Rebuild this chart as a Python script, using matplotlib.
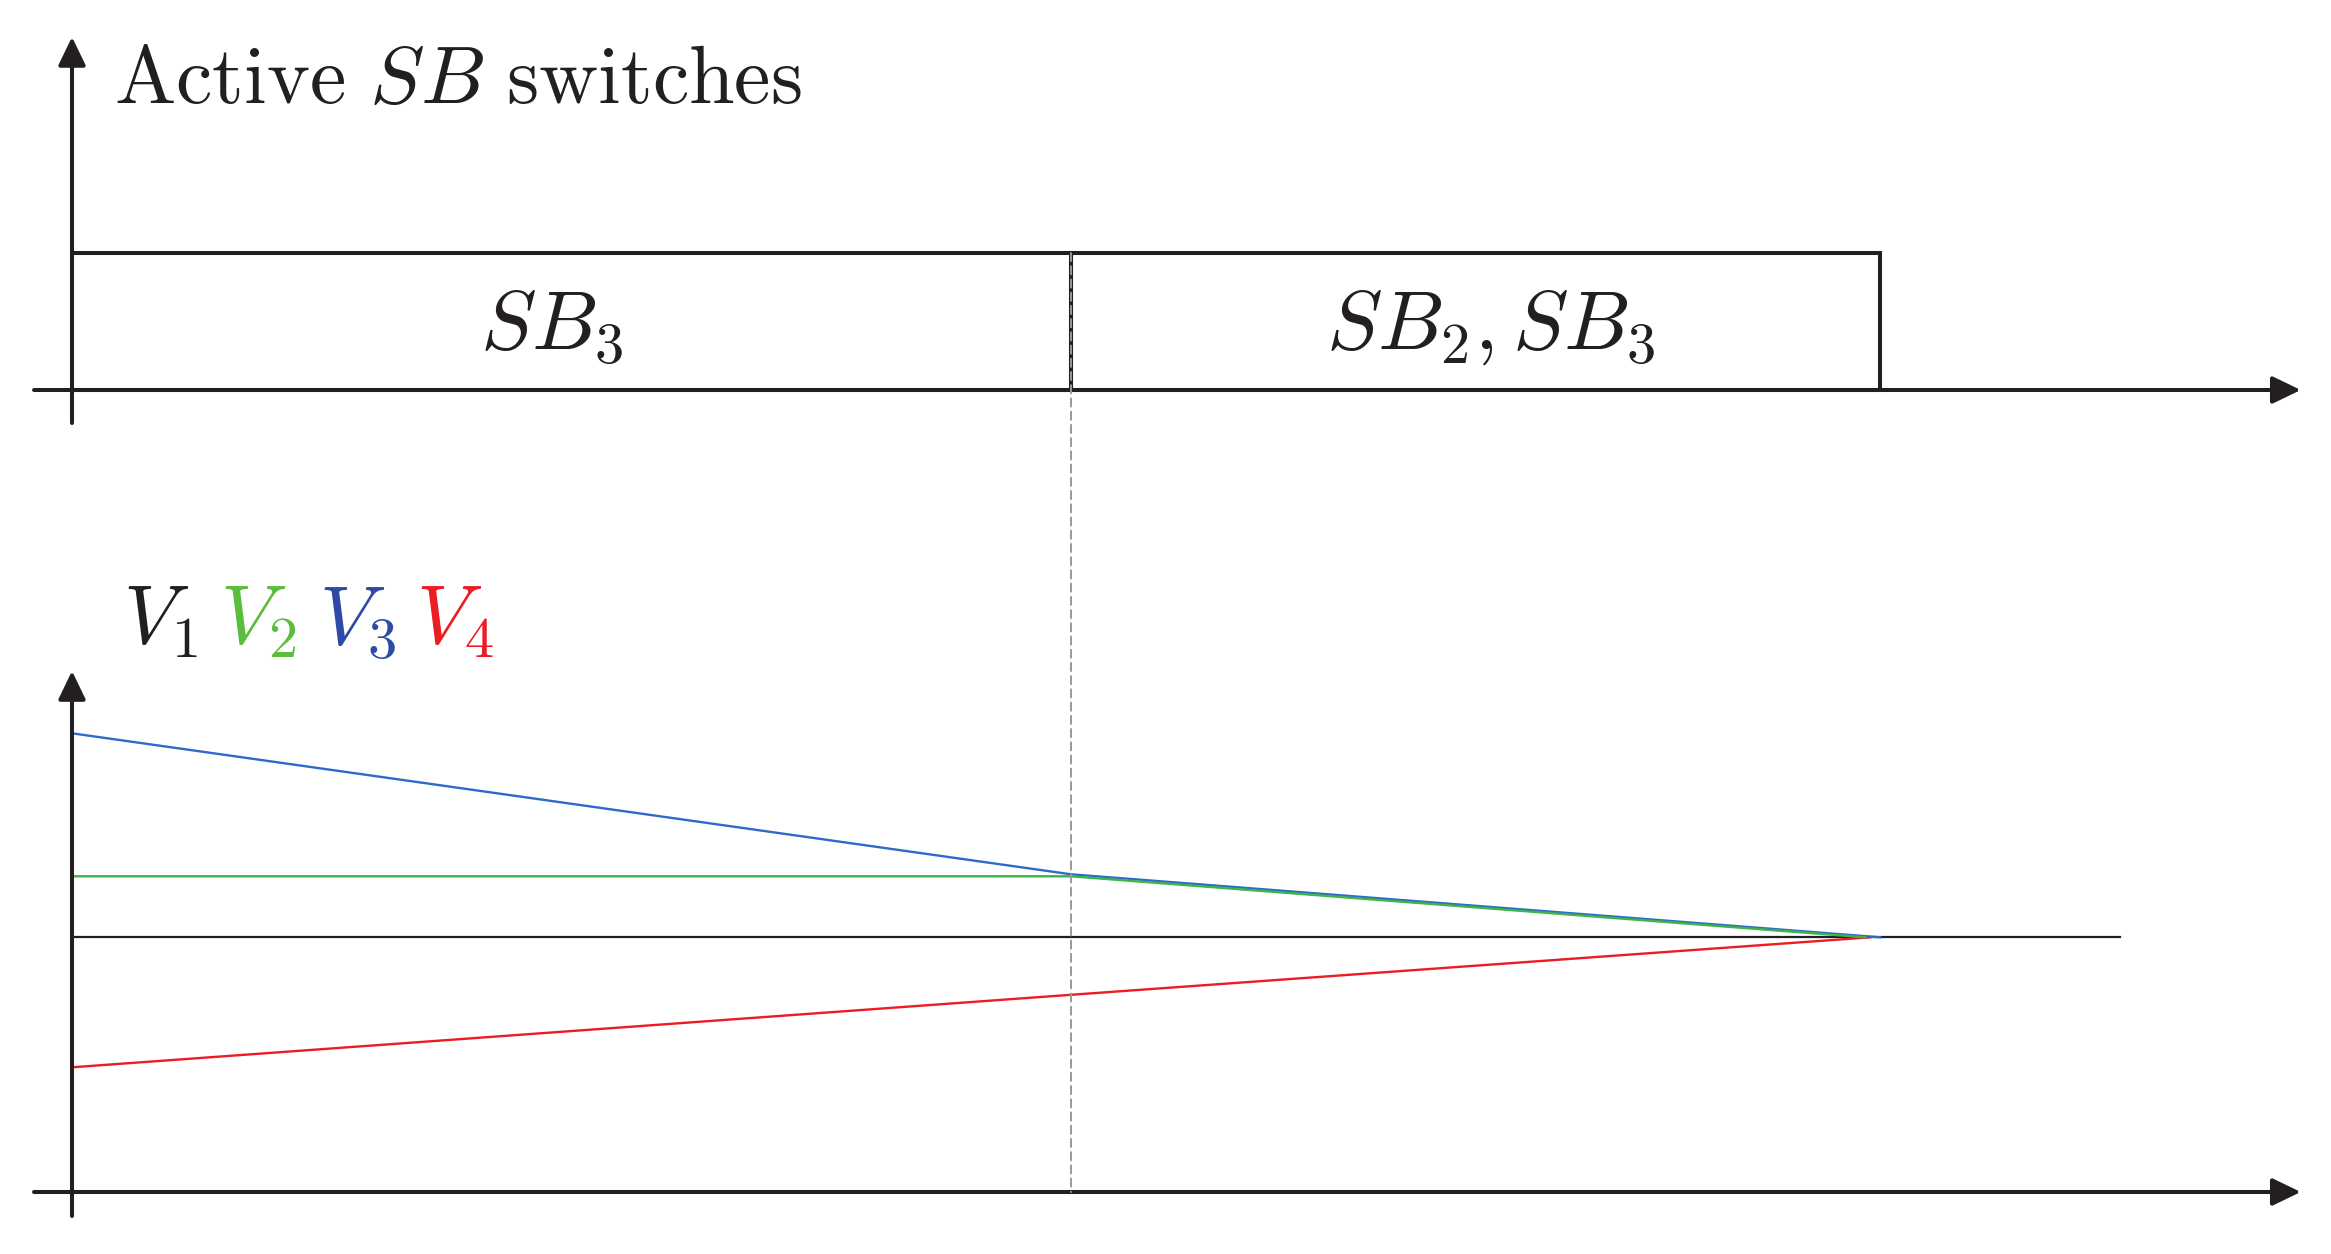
import matplotlib
matplotlib.use("Agg")
import matplotlib.pyplot as plt
from matplotlib.patches import ConnectionPatch

plt.rcParams['mathtext.fontset'] = 'cm'
plt.rcParams['font.family'] = ['DejaVu Serif']

# ---------------- data ----------------
# switching intervals (time in units of the first switching instant)
sb_starts = [0.0, 1.0]
sb_ends = [1.0, 1.81]
sb_labels = [r'$SB_3$', r'$SB_2, SB_3$']
sb_label_x = [0.48, 1.42]

# voltage trajectories (arbitrary units, V1 as reference = 0)
t_v1 = [0.0, 2.05]
v1 = [0.0, 0.0]
t_v2 = [0.0, 1.0, 1.795]
v2 = [0.61, 0.61, 0.0]
t_v3 = [0.0, 1.0, 1.81]
v3 = [2.04, 0.63, 0.0]
t_v4 = [0.0, 1.0, 1.80]
v4 = [-1.30, -0.575, 0.0]

v_names = [r'$V_1$', r'$V_2$', r'$V_3$', r'$V_4$']
label_colors = ['#231F20', '#5BBD3C', '#2E4AA5', '#EC1C24']
line_colors = ['#231F20', '#3BB54A', '#2F6AC9', '#EC1C24']

title = r'$\mathrm{Active}\ SB\ \mathrm{switches}$'

# ---------------- figure / layout ----------------
W, H, DPI = 2331, 1254, 100
fig = plt.figure(figsize=(W / DPI, H / DPI), dpi=DPI)
fig.patch.set_facecolor('white')

x0_px, x_scale = 72.0, 999.0          # t=0 pixel, pixels per t unit
xlim = (-x0_px / x_scale, (W - x0_px) / x_scale)

# top panel: y=0 at pixel 390, 137 px per unit
ytop0, ytop_s = 390.0, 137.0
ax_top = fig.add_axes([0, 0, 1, 1])
ax_top.set_xlim(*xlim)
ax_top.set_ylim((ytop0 - H) / ytop_s, ytop0 / ytop_s)
ax_top.axis('off')
ax_top.patch.set_alpha(0)

# bottom panel: v=0 at pixel 937.3, 100 px per unit
ybot0, ybot_s = 937.3, 100.0
ax_bot = fig.add_axes([0, 0, 1, 1])
ax_bot.set_xlim(*xlim)
ax_bot.set_ylim((ybot0 - H) / ybot_s, ybot0 / ybot_s)
ax_bot.axis('off')
ax_bot.patch.set_alpha(0)

axis_color = '#231F20'
axis_lw = 2.9


def draw_axes(ax, x_start, x_tip, y_axis, y_bottom, y_tip):
    arrow = dict(arrowstyle='-|>,head_length=0.58,head_width=0.28',
                 lw=axis_lw, color=axis_color, mutation_scale=30,
                 shrinkA=0, shrinkB=0)
    ax.annotate('', xy=(x_tip, y_axis), xytext=(x_start, y_axis),
                arrowprops=arrow, zorder=5)
    ax.annotate('', xy=(0, y_tip), xytext=(0, y_bottom),
                arrowprops=arrow, zorder=5)


# ---------------- top panel ----------------
for s, e in zip(sb_starts, sb_ends):
    ax_top.bar(s, 1.0, width=e - s, align='edge', fill=False,
               edgecolor=axis_color, linewidth=axis_lw, zorder=3)
for lx, lab in zip(sb_label_x, sb_labels):
    ax_top.text(lx, 0.30, lab, fontsize=60, ha='center', va='baseline',
                color=axis_color)
ax_top.text(0.042, 2.095, title, fontsize=59, ha='left', va='baseline',
            color=axis_color)
draw_axes(ax_top, -0.038, 2.231, 0.0, -0.241, 2.577)

# ---------------- bottom panel ----------------
ax_bot.plot(t_v1, v1, color=line_colors[0], lw=1.6, zorder=2)
ax_bot.plot(t_v4, v4, color=line_colors[3], lw=1.7, zorder=2)
ax_bot.plot(t_v3, v3, color=line_colors[2], lw=1.7, zorder=2)
ax_bot.plot(t_v2, v2, color=line_colors[1], lw=1.7, zorder=2)

label_x = [0.051, 0.148, 0.247, 0.344]
for lx, name, c in zip(label_x, v_names, label_colors):
    ax_bot.text(lx, 2.93, name, fontsize=60, ha='left', va='baseline', color=c)

v_axis_y = -2.547
draw_axes(ax_bot, -0.038, 2.231, v_axis_y, -2.787, 2.663)

# dashed separator at the switching instant
con = ConnectionPatch(xyA=(sb_starts[1], 1.0), coordsA=ax_top.transData,
                      xyB=(sb_starts[1], v_axis_y), coordsB=ax_bot.transData,
                      color='#999999', lw=1.4, linestyle=(0, (4.2, 2.6)),
                      zorder=1)
fig.add_artist(con)

fig.savefig('out.png', dpi=DPI, facecolor='white')
